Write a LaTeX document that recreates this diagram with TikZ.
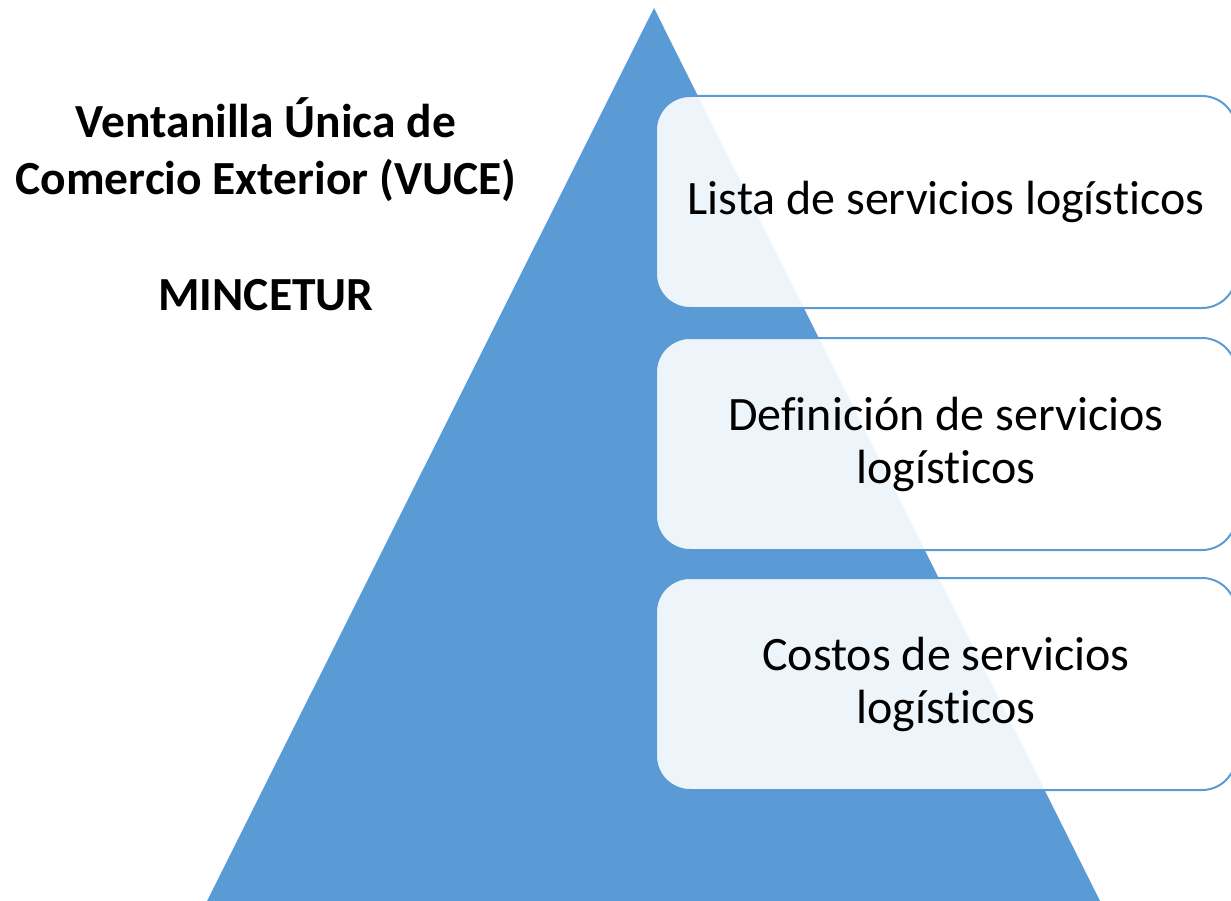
\documentclass[tikz,border=0pt]{standalone}
\usepackage{fontspec}
\setmainfont{Carlito}[Ligatures={NoCommon,NoRequired,NoContextual}]
\definecolor{pyrblue}{HTML}{5B9BD5}

\begin{document}
\begin{tikzpicture}[x=1pt, y=-1pt,
        level/.style={draw=pyrblue, line width=2pt, fill=white, fill opacity=.9, text opacity=1,
            rounded corners=34pt, minimum width=580pt, minimum height=212pt, inner sep=0pt,
            align=center, font=\fontsize{48}{53}\selectfont},
        heading/.style={align=center, inner sep=0pt, font=\fontsize{47.5}{57}\selectfont\bfseries}]
            \useasboundingbox (0,0) rectangle (1231,901);
            \coordinate (apex) at (654,8);
            \coordinate (baseleft) at (207,901);
            \coordinate (baseright) at (1100,901);
            \fill[pyrblue] (apex) -- (baseright) -- (baseleft) -- cycle;
            \node[level] (lista) at (946,202) {Lista de servicios logísticos};
            \node[level] (definicion) at (946,444) {Definición de servicios\\logísticos};
            \node[level] (costos) at (946,684) {Costos de servicios\\logísticos};
            \node[heading, anchor=base] (vuce) at (266,195) {Ventanilla Única de\\Comercio Exterior (VUCE)};
            \node[heading, anchor=base] (mincetur) at (266,310) {MINCETUR};
        \end{tikzpicture}
\end{document}
